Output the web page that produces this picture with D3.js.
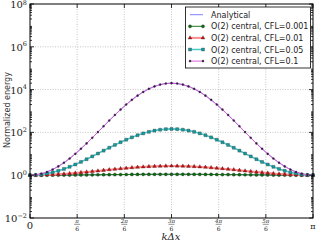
<!DOCTYPE html>
<html>
<head>
<meta charset="utf-8">
<script src="https://cdn.jsdelivr.net/npm/d3@7"></script>
<style>
  body { margin: 0; background: #fff; }
  svg { display: block; }
</style>
</head>
<body>
<svg id="chart" width="317" height="242"></svg>
<script>
// kΔx sample points, 0..π
const kdx = [0, 0.0628, 0.1257, 0.1885, 0.2513, 0.3142, 0.3770, 0.4398, 0.5027, 0.5655,
  0.6283, 0.6912, 0.7540, 0.8168, 0.8796, 0.9425, 1.0053, 1.0681, 1.1310, 1.1938,
  1.2566, 1.3195, 1.3823, 1.4451, 1.5080, 1.5708, 1.6336, 1.6965, 1.7593, 1.8221,
  1.8850, 1.9478, 2.0106, 2.0735, 2.1363, 2.1991, 2.2619, 2.3248, 2.3876, 2.4504,
  2.5133, 2.5761, 2.6389, 2.7018, 2.7646, 2.8274, 2.8903, 2.9531, 3.0159, 3.0788, 3.1416];

const cfl001 = [1, 1.0004, 1.0016, 1.0035, 1.0061, 1.0095, 1.0135, 1.0181, 1.0233, 1.0288,
  1.0348, 1.0410, 1.0475, 1.0540, 1.0606, 1.0670, 1.0731, 1.0790, 1.0844, 1.0894,
  1.0937, 1.0974, 1.1003, 1.1024, 1.1037, 1.1041, 1.1037, 1.1024, 1.1003, 1.0974,
  1.0937, 1.0894, 1.0844, 1.0790, 1.0731, 1.0670, 1.0606, 1.0540, 1.0475, 1.0410,
  1.0348, 1.0288, 1.0233, 1.0181, 1.0135, 1.0095, 1.0061, 1.0035, 1.0016, 1.0004, 1];

const cfl01 = [1, 1.0039, 1.0157, 1.0354, 1.0631, 1.0991, 1.1436, 1.1966, 1.2584, 1.3289,
  1.4080, 1.4952, 1.5908, 1.6925, 1.8000, 1.9114, 2.0254, 2.1388, 2.2491, 2.3534,
  2.4485, 2.5316, 2.5994, 2.6498, 2.6809, 2.6915, 2.6809, 2.6498, 2.5994, 2.5316,
  2.4485, 2.3534, 2.2491, 2.1388, 2.0254, 1.9114, 1.8000, 1.6925, 1.5908, 1.4952,
  1.4080, 1.3289, 1.2584, 1.1966, 1.1436, 1.0991, 1.0631, 1.0354, 1.0157, 1.0039, 1];

const cfl05 = [1, 1.0198, 1.0812, 1.1908, 1.3599, 1.608, 1.962, 2.464, 3.171, 4.171,
  5.576, 7.545, 10.28, 14.05, 19.16, 25.93, 34.67, 45.57, 58.67, 73.69,
  89.89, 106.3, 121.4, 133.7, 141.8, 144.5, 141.8, 133.7, 121.4, 106.3,
  89.89, 73.69, 58.67, 45.57, 34.67, 25.93, 19.16, 14.05, 10.28, 7.545,
  5.576, 4.171, 3.171, 2.464, 1.962, 1.608, 1.3599, 1.1908, 1.0812, 1.0198, 1];

const cfl1 = [1, 1.040, 1.168, 1.416, 1.844, 2.575, 3.826, 6.020, 9.954, 17.16,
  30.60, 55.85, 103.5, 192.8, 357.2, 652.2, 1163, 2004, 3314, 5217,
  7752, 10822, 14095, 17080, 19200, 19953, 19200, 17080, 14095, 10822,
  7752, 5217, 3314, 2004, 1163, 652.2, 357.2, 192.8, 103.5, 55.85,
  30.60, 17.16, 9.954, 6.020, 3.826, 2.575, 1.844, 1.416, 1.168, 1.040, 1];

const yTickExps = [-2, 0, 2, 4, 6, 8];
const xTickNums = ['0', 'π', '2π', '3π', '4π', '5π', 'π'];

const series = [
  { name: 'O(2) central, CFL=0.001', values: cfl001, line: '#1f7a1f', lw: 1, fill: '#0e6b0e', symbol: d3.symbolCircle, size: 8 },
  { name: 'O(2) central, CFL=0.01', values: cfl01, line: '#ff8c8c', lw: 2, fill: '#c81010', symbol: d3.symbolTriangle, size: 6.5 },
  { name: 'O(2) central, CFL=0.05', values: cfl05, line: '#50c8c8', lw: 1.5, fill: '#1a9c9c', symbol: d3.symbolSquare, size: 9 },
  { name: 'O(2) central, CFL=0.1', values: cfl1, line: '#d860d8', lw: 1, fill: '#3a1848', symbol: d3.symbolCircle, size: 3.5 }
];

const svg = d3.select('#chart');
const plotL = 30, plotR = 313, plotT = 4, plotB = 218;

const x = d3.scaleLinear().domain([0, Math.PI]).range([plotL, plotR]);
const y = d3.scaleLog().domain([1e-2, 1e8]).range([plotB, plotT]);

const xTicks = d3.range(7).map((i) => i * Math.PI / 6);

// grid
const grid = svg.append('g');
grid.selectAll('.gx').data(xTicks.slice(1, -1)).join('line')
  .attr('x1', (d) => x(d)).attr('x2', (d) => x(d))
  .attr('y1', plotT).attr('y2', plotB)
  .attr('stroke', '#a0a0a0').attr('stroke-width', 0.6).attr('stroke-dasharray', '1,1.5');
grid.selectAll('.gy').data(yTickExps.slice(1, -1)).join('line')
  .attr('x1', plotL).attr('x2', plotR)
  .attr('y1', (d) => y(Math.pow(10, d))).attr('y2', (d) => y(Math.pow(10, d)))
  .attr('stroke', '#a0a0a0').attr('stroke-width', 0.6).attr('stroke-dasharray', '1,1.5');

const plot = svg.append('g');

// analytical curves (underneath)
const lineGen = (vals) => d3.line().x((d, i) => x(kdx[i])).y((d) => y(d))(vals);
series.forEach((s) => {
  plot.append('path').attr('d', lineGen(s.values))
    .attr('fill', 'none').attr('stroke', '#8080ff').attr('stroke-width', 1);
});

series.forEach((s) => {
  plot.append('path').attr('d', lineGen(s.values))
    .attr('fill', 'none').attr('stroke', s.line).attr('stroke-width', s.lw);
  plot.append('g').selectAll('path').data(s.values).join('path')
    .attr('transform', (d, i) => `translate(${x(kdx[i])},${y(d)})`)
    .attr('d', d3.symbol().type(s.symbol).size(s.size))
    .attr('fill', s.fill).attr('stroke', '#222').attr('stroke-width', 0.3);
});

// frame
svg.append('rect').attr('x', plotL).attr('y', plotT)
  .attr('width', plotR - plotL).attr('height', plotB - plotT)
  .attr('fill', 'none').attr('stroke', '#000').attr('stroke-width', 1);

// ticks (inward, all four sides)
const ticks = svg.append('g').attr('stroke', '#000').attr('stroke-width', 0.8);
xTicks.forEach((t) => {
  ticks.append('line').attr('x1', x(t)).attr('x2', x(t)).attr('y1', plotB).attr('y2', plotB - 4);
  ticks.append('line').attr('x1', x(t)).attr('x2', x(t)).attr('y1', plotT).attr('y2', plotT + 4);
});
yTickExps.forEach((e) => {
  const yy = y(Math.pow(10, e));
  ticks.append('line').attr('x1', plotL).attr('x2', plotL + 4).attr('y1', yy).attr('y2', yy);
  ticks.append('line').attr('x1', plotR).attr('x2', plotR - 4).attr('y1', yy).attr('y2', yy);
});
d3.range(-2, 8).forEach((e) => {
  d3.range(2, 10).forEach((m) => {
    const yy = y(m * Math.pow(10, e));
    ticks.append('line').attr('x1', plotL).attr('x2', plotL + 2).attr('y1', yy).attr('y2', yy);
    ticks.append('line').attr('x1', plotR).attr('x2', plotR - 2).attr('y1', yy).attr('y2', yy);
  });
});

// y tick labels
const serif = 'DejaVu Serif, Liberation Serif, serif';
yTickExps.forEach((e) => {
  const yy = y(Math.pow(10, e));
  const t = svg.append('text').attr('x', 27).attr('y', yy + 4)
    .attr('text-anchor', 'end').attr('font-family', serif).attr('font-size', 10).attr('fill', '#222');
  t.append('tspan').text('10');
  t.append('tspan').attr('dy', e === 8 ? -3.5 : -4.5).attr('font-size', 6.5).text(e < 0 ? '−' + (-e) : String(e));
});

// x tick labels
xTicks.forEach((t, i) => {
  const xx = x(t);
  if (i === 0 || i === 6) {
    svg.append('text').attr('x', xx).attr('y', 229).attr('text-anchor', 'middle')
      .attr('font-family', serif).attr('font-size', i === 0 ? 10 : 8).attr('fill', '#222').text(xTickNums[i]);
  } else {
    svg.append('text').attr('x', xx).attr('y', 222.5).attr('text-anchor', 'middle')
      .attr('font-family', serif).attr('font-style', 'italic').attr('font-size', 5.5).attr('fill', '#222').text(xTickNums[i]);
    svg.append('line').attr('x1', xx - 3).attr('x2', xx + 3).attr('y1', 224.3).attr('y2', 224.3)
      .attr('stroke', '#222').attr('stroke-width', 0.5);
    svg.append('text').attr('x', xx).attr('y', 231).attr('text-anchor', 'middle')
      .attr('font-family', serif).attr('font-size', 6).attr('fill', '#222').text('6');
  }
});

// axis labels
svg.append('text').attr('x', 171).attr('y', 240).attr('text-anchor', 'middle')
  .attr('font-family', serif).attr('font-style', 'italic').attr('font-size', 10).attr('fill', '#222')
  .text('kΔx');
svg.append('text').attr('transform', 'translate(10,110) rotate(-90)').attr('text-anchor', 'middle')
  .attr('font-family', 'DejaVu Sans, sans-serif').attr('font-size', 8).attr('fill', '#333')
  .text('Normalized energy');

// legend
const lg = svg.append('g');
lg.append('rect').attr('x', 185.5).attr('y', 7).attr('width', 125).attr('height', 61)
  .attr('fill', '#fff').attr('stroke', '#000').attr('stroke-width', 0.8);
const rows = [{ name: 'Analytical', line: '#8080ff', lw: 1 }].concat(series);
rows.forEach((r, i) => {
  const yy = 14.7 + i * 11.6;
  lg.append('line').attr('x1', 190).attr('x2', 203).attr('y1', yy).attr('y2', yy)
    .attr('stroke', r.line).attr('stroke-width', r.lw);
  if (r.symbol) {
    [190, 203].forEach((xx) => {
      lg.append('path').attr('transform', `translate(${xx},${yy})`)
        .attr('d', d3.symbol().type(r.symbol).size(r.size))
        .attr('fill', r.fill).attr('stroke', '#222').attr('stroke-width', 0.3);
    });
  }
  lg.append('text').attr('x', 211).attr('y', yy + 3).attr('font-family', 'DejaVu Sans, sans-serif')
    .attr('font-size', 8).attr('fill', '#222').text(r.name);
});
</script>
</body>
</html>
